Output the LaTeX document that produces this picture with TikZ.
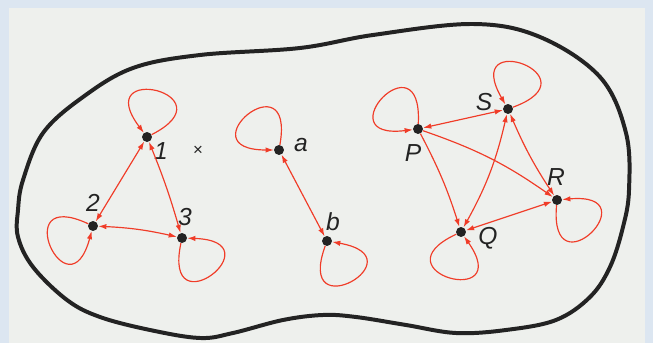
\documentclass[tikz,border=0pt]{standalone}
\usepackage{fontspec}
\setmainfont{Liberation Sans}
\usetikzlibrary{arrows.meta}
\definecolor{edgered}{HTML}{F03C28}
\definecolor{panelgray}{HTML}{EEF0ED}
\definecolor{frameblue}{HTML}{DCE6F1}
\definecolor{inkblack}{HTML}{232323}

\begin{document}
\begin{tikzpicture}[x=0.03cm,y=0.03cm,>={Latex[length=7pt,width=4.6pt]},
  dot/.style={circle,fill=inkblack,inner sep=0pt,minimum size=8.5pt},
  lab/.style={font=\fontsize{21}{22}\selectfont\itshape,text=inkblack,inner sep=0pt},
  redline/.style={draw=edgered,line width=1pt},
  selfloop/.style={redline,->,min distance=2.7cm}]
\useasboundingbox (0,0) rectangle (653,343);
\fill[frameblue] (0,0) rectangle (653,343);
\fill[panelgray] (9,0) rectangle (645,335);
% outline of the set
\draw[line width=3.4pt,inkblack,line join=round] plot[smooth cycle,tension=0.6] coordinates {
 (23,163) (43,210) (83,246) (133,275) (200,288) (300,295) (373,308) (473,319)
 (540,306) (600,266) (626,210) (629,153) (623,116) (610,76) (590,46) (556,23)
 (506,13) (456,10) (406,18) (356,26) (323,28) (283,23) (233,10) (200,5)
 (150,13) (100,26) (67,43) (33,76) (18,106) (18,133)};
% points
\foreach \n/\x/\y in {1/147/206,2/93/117,3/182/105,a/279/193,b/327/102,P/418/214,S/508/234,R/557/143,Q/461/111}
 \node[dot] (n\n) at (\x,\y) {};
\foreach \n/\x/\y in {1/161/192,2/93/140,3/185/126,a/301/198,b/333/121,P/413/190,S/484/241,R/556/166,Q/488/105}
 \node[lab] (l\n) at (\x,\y) {\n};
\node[font=\Large,text=inkblack] (cross) at (198,192) {×};
% loops
\foreach \n/\o/\i in {1/27/127,2/155/255,3/258/358,a/80/180,b/250/350,P/87/187,S/20/120,R/265/5,Q/205/305}
 \draw[selfloop] (n\n) to[out=\o,in=\i] (n\n);
% relations
\draw[redline,<->] (n1) -- (n2);
\draw[redline,<->] (n1) to[bend left=3] (n3);
\draw[redline,<->] (n2) to[bend left=5] (n3);
\draw[redline,<->] (na) -- (nb);
\draw[redline,<->] (nP) -- (nS);
\draw[redline,->] (nP) to[bend left=5] (nQ);
\draw[redline,->] (nP) to[bend left=8] (nR);
\draw[redline,<->] (nS) to[bend left=8] (nQ);
\draw[redline,<->] (nS) to[bend right=5] (nR);
\draw[redline,<->] (nQ) -- (nR);
\end{tikzpicture}
\end{document}
